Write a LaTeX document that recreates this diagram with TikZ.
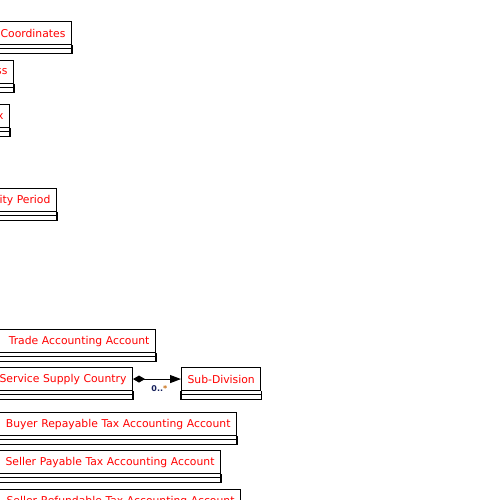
\documentclass[tikz,border=0pt]{standalone}
\usepackage{fontspec}
\setmainfont{DejaVu Sans}
\usetikzlibrary{arrows.meta}
\usetikzlibrary{calc,positioning}

\definecolor{classred}{RGB}{255,0,0}
\definecolor{multblue}{RGB}{20,30,90}
\definecolor{multorange}{RGB}{200,110,20}

% the two empty compartments under a class name
\newcommand{\classrest}[1]{%
  \draw[classline] ($(#1.south west)+(0,3)$) -- ($(#1.south east)+(0,3)$);
  \draw[classline] (#1.south west) -- ++(0,8) -| (#1.south east);
}

\tikzset{
  classline/.style={line width=1.1pt},
  classname/.style={draw, classline, anchor=north east, minimum height=23pt,
    inner xsep=6pt, inner ysep=0pt, text=classred, align=right,
    font=\fontsize{10.8}{12}\selectfont},
}

\begin{document}
\begin{tikzpicture}[x=1pt,y=-1pt,>=Stealth]
    \useasboundingbox (0,0) rectangle (500,500);
    \clip (0,0) rectangle (500,500);

    \node[classname, text width=120pt] (coord) at (72,21) {Coordinates};
    \classrest{coord}
    \node[classname, text width=62pt] (address) at (14,60) {ss};
    \classrest{address}
    \node[classname, text width=58pt] (tax) at (10,104) {x};
    \classrest{tax}
    \node[classname, text width=105pt] (period) at (57,188) {ity Period};
    \classrest{period}
    \node[classname, text width=204pt] (trade) at (156,329) {Trade Accounting Account};
    \classrest{trade}
    \node[classname, text width=181pt] (country) at (133,367) {Service Supply Country};
    \classrest{country}
    \node[classname, anchor=north west] (subdiv) at (181,367) {Sub-Division};
    \classrest{subdiv}
    \node[classname, text width=285pt] (buyer) at (237,412) {Buyer Repayable Tax Accounting Account};
    \classrest{buyer}
    \node[classname, text width=269pt] (payable) at (221,450) {Seller Payable Tax Accounting Account};
    \classrest{payable}
    \node[classname, text width=289pt] (refund) at (241,489) {Seller Refundable Tax Accounting Account};
    \classrest{refund}

    \draw[classline, {Diamond[length=12pt,width=7pt]}-{Triangle[length=11pt,width=8pt]}]
      (country.east) -- node[below=3pt, pos=0.55, font=\fontsize{8}{9}\selectfont\bfseries]
      {\textcolor{multblue}{0..}\textcolor{multorange}{*}} (subdiv.west);

\end{tikzpicture}
\end{document}
